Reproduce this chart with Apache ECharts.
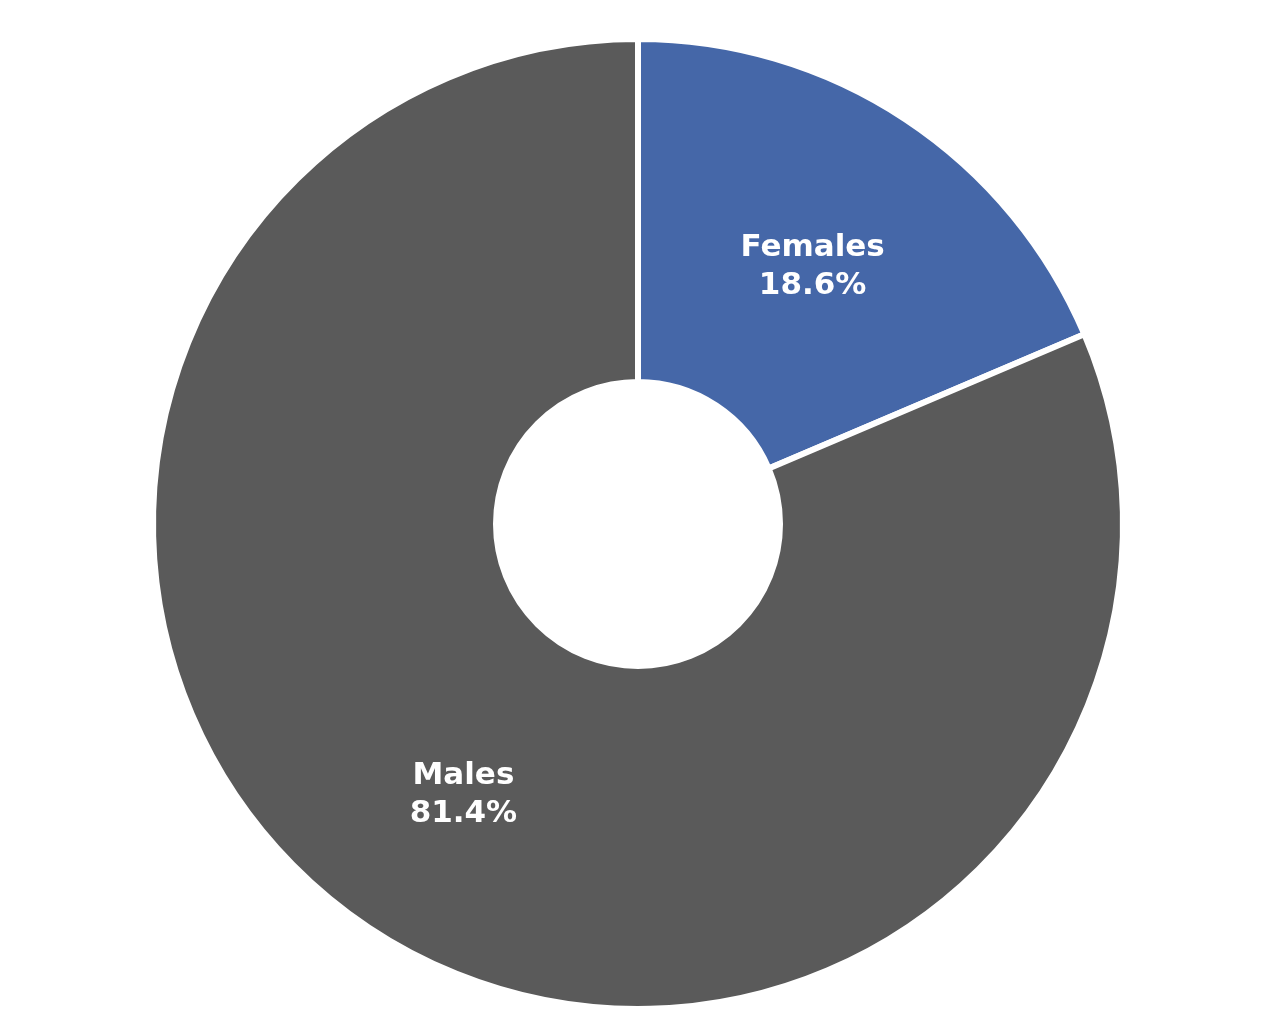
<!DOCTYPE html>
<html>
<head>
<meta charset="utf-8">
<script src="https://cdn.jsdelivr.net/npm/echarts@6/dist/echarts.min.js"></script>
<style>
  html, body { margin: 0; padding: 0; background: #ffffff; }
  #chart { width: 1280px; height: 1018px; }
</style>
</head>
<body>
<div id="chart"></div>
<script>
  // 数据
  const categories = ['Females', 'Males'];
  const shares = [18.6, 81.4];
  const colors = ['#4567a8', '#5a5a5a'];

  const chart = echarts.init(document.getElementById('chart'));
  const option = {
    animation: false,
    series: [
      {
        type: 'pie',
        center: [638, 524],
        radius: [142, 485],
        startAngle: 90,
        clockwise: true,
        itemStyle: {
          borderColor: '#ffffff',
          borderWidth: 6
        },
        label: {
          show: true,
          position: 'inside',
          color: '#ffffff',
          fontFamily: 'DejaVu Sans',
          fontWeight: 'bold',
          fontSize: 31,
          lineHeight: 38,
          formatter: function (p) {
            // 顶部空行让文字略微下移
            return '{pad| }\n' + p.name + '\n' + p.value.toFixed(1) + '%';
          },
          rich: {
            pad: { fontSize: 4, lineHeight: 14 }
          }
        },
        labelLine: { show: false },
        data: categories.map(function (name, i) {
          return { name: name, value: shares[i], itemStyle: { color: colors[i] } };
        })
      }
    ]
  };
  chart.setOption(option);
</script>
</body>
</html>
